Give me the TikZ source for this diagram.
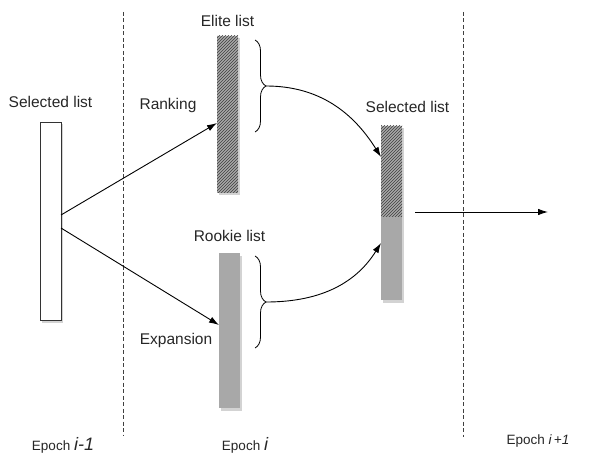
\documentclass[tikz,border=0pt]{standalone}
\usepackage{fontspec}
\setmainfont{Liberation Sans}
\usetikzlibrary{arrows.meta,positioning,patterns,shadows,decorations.pathreplacing}
\definecolor{barfill}{HTML}{A8A8A8}
\definecolor{hatchline}{HTML}{3F3F3F}
\definecolor{labelgray}{HTML}{262626}

\begin{document}
\begin{tikzpicture}[x=1pt,y=1pt,
  every node/.style={font=\fontsize{15.5}{18}\selectfont,text=labelgray},
  bar/.style={minimum width=21pt,inner sep=0pt,outer sep=0pt,
             drop shadow={shadow xshift=1.5pt,shadow yshift=-2.5pt,opacity=.35}},
  plain/.style={bar,draw=black!80,fill=white,line width=.8pt},
  hatched/.style={bar,preaction={fill=barfill},pattern=north east lines,pattern color=hatchline},
  solid/.style={bar,fill=barfill},
  epoch/.style={dash pattern=on 4pt off 2.5pt,line width=.8pt,black!75},
  curly/.style={decorate,decoration={brace,amplitude=11pt},line width=.8pt},
  arr/.style={-{Latex[length=10pt,width=6.5pt]},line width=.9pt}
]
\useasboundingbox (0,0) rectangle (594,453);
% epoch boundaries
\draw[epoch] (123,441) -- (123,18);
\draw[epoch] (463,441) -- (463,16);
% lists
\node[plain,minimum height=198pt] (prev) at (50.5,232) {};
\node[hatched,minimum height=157pt] (elite) at (227.5,338.5) {};
\node[solid,minimum height=155pt] (rookie) at (229.5,122.5) {};
\node[hatched,minimum height=91pt] (mergedtop) at (391.5,281.5) {};
\node[solid,minimum height=83pt,below=0pt of mergedtop] (mergedbot) {};
\node[above=11pt of prev] (prevlabel) {Selected list};
\node[above=6pt of elite] (elitelabel) {Elite list};
\node[above=8pt of rookie] (rookielabel) {Rookie list};
\node[above=10pt of mergedtop,xshift=16pt] (mergedlabel) {Selected list};
\node (ranking) at (168,348) {Ranking};
\node (expansion) at (176,113) {Expansion};
% braces
\draw[curly] (255,413) -- (255,321) coordinate[pos=.5,xshift=11pt] (elitetip);
\draw[curly] (255,197) -- (255,105) coordinate[pos=.5,xshift=11pt] (rookietip);
% connectors
\draw[arr] ([yshift=6pt]prev.east) -- ([yshift=-8.5pt]elite.west);
\draw[arr] ([yshift=-7pt]prev.east) -- ([yshift=5.5pt]rookie.west);
\draw[arr] (elitetip) to[out=0,in=122] ([yshift=14.5pt]mergedtop.west);
\draw[arr] (rookietip) to[out=0,in=-122] ([yshift=15.5pt]mergedbot.west);
\coordinate (nextepoch) at (548,241);
\draw[arr] ([xshift=13pt,yshift=5pt]mergedtop.south east) -- (nextepoch);
% epoch names
\node[font=\fontsize{13.5}{15}\selectfont] (epochprev) at (63,8) {Epoch {\fontsize{18}{18}\selectfont\itshape i-1}};
\node[font=\fontsize{13.5}{15}\selectfont] (epochcur) at (245,8) {Epoch {\fontsize{18}{18}\selectfont\itshape i}};
\node[font=\fontsize{13.5}{15}\selectfont] (epochnext) at (538,12) {Epoch {\itshape i\,+1}};
\end{tikzpicture}
\end{document}
